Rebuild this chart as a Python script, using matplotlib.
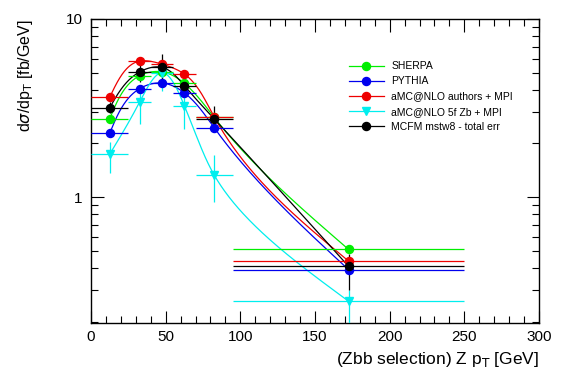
import numpy as np
import matplotlib
matplotlib.use("Agg")
import matplotlib.pyplot as plt
from matplotlib.ticker import LogLocator, NullFormatter, FixedLocator, MultipleLocator

plt.rcParams['font.family'] = ['Liberation Sans', 'DejaVu Sans']

# bins in Z pT [GeV]
bin_lo = [0, 25, 40, 55, 70, 95]
bin_hi = [25, 40, 55, 70, 95, 250]
bin_x = [12.5, 32.5, 47.5, 62.5, 82.5, 172.5]

sherpa = [2.75, 4.80, 5.05, 4.35, 2.80, 0.508]
pythia = [2.28, 4.06, 4.37, 3.85, 2.45, 0.391]
amc_authors = [3.63, 5.80, 5.58, 4.91, 2.82, 0.437]
amc_5f = [1.74, 3.41, 4.99, 3.26, 1.33, 0.260]
amc_5f_up = [2.03, 3.95, 5.50, 3.68, 1.72, 0.300]
amc_5f_dn = [1.36, 2.56, 3.93, 2.40, 0.94, 0.150]
mcfm = [3.17, 5.04, 5.35, 4.22, 2.75, 0.408]
mcfm_up = [3.40, 6.13, 6.40, 4.60, 3.24, 0.48]
mcfm_dn = [2.95, 4.40, 4.60, 3.80, 2.56, 0.30]

labels = ["SHERPA", "PYTHIA", "aMC@NLO authors + MPI",
          "aMC@NLO 5f Zb + MPI", "MCFM mstw8 - total err"]


def spline2(t, v):
    # natural cubic spline, second derivatives
    n = len(t)
    h = np.diff(t)
    A = np.zeros((n, n))
    r = np.zeros(n)
    A[0, 0] = A[-1, -1] = 1
    for i in range(1, n - 1):
        A[i, i - 1] = h[i - 1]
        A[i, i] = 2 * (h[i - 1] + h[i])
        A[i, i + 1] = h[i]
        r[i] = 6 * ((v[i + 1] - v[i]) / h[i] - (v[i] - v[i - 1]) / h[i - 1])
    return np.linalg.solve(A, r)


def spline_eval(t, v, m, tt):
    out = np.empty_like(tt)
    for k, s in enumerate(tt):
        i = min(np.searchsorted(t, s, side='right') - 1, len(t) - 2)
        i = max(i, 0)
        h = t[i + 1] - t[i]
        a = (t[i + 1] - s) / h
        b = (s - t[i]) / h
        out[k] = (a * v[i] + b * v[i + 1]
                  + ((a ** 3 - a) * m[i] + (b ** 3 - b) * m[i + 1]) * h * h / 6)
    return out


def smooth_curve(x, y):
    # parametric spline in screen-like units (x in px, log y in px), like ROOT "C"
    u = np.asarray(x, float) * 448 / 300.0
    v = np.log10(np.asarray(y, float)) * 178
    t = np.concatenate([[0], np.cumsum(np.hypot(np.diff(u), np.diff(v)))])
    tt = np.linspace(0, t[-1], 400)
    uu = spline_eval(t, u, spline2(t, u), tt)
    vv = spline_eval(t, v, spline2(t, v), tt)
    return uu * 300 / 448.0, 10 ** (vv / 178)


fig = plt.figure(figsize=(5.67, 3.84), dpi=100)
ax = fig.add_axes([91 / 567, 1 - 322.7 / 384, 448 / 567, (322.7 - 19) / 384])

x = np.array(bin_x)
xerr = [x - np.array(bin_lo), np.array(bin_hi) - x]

series = [
    (sherpa, "#00ee00", "o", None),
    (pythia, "#0000ee", "o", None),
    (amc_authors, "#ee0000", "o", None),
    (amc_5f, "#00eeee", "v", (amc_5f_dn, amc_5f_up)),
    (mcfm, "black", "o", (mcfm_dn, mcfm_up)),
]

handles = []
for vals, col, mk, band in series:
    y = np.array(vals)
    yerr = None
    if band is not None:
        yerr = [y - np.array(band[0]), np.array(band[1]) - y]
    cx, cy = smooth_curve(x, y)
    ax.plot(cx, cy, color=col, lw=0.9, zorder=2)
    ax.errorbar(x, y, xerr=xerr, yerr=yerr, fmt='none', ecolor=col,
                elinewidth=0.9, capsize=0, zorder=3)
    ax.plot(x, y, ls='none', marker=mk, ms=5.8, color=col, mec=col, zorder=4)
    h, = ax.plot([], [], color=col, lw=0.9, marker=mk, ms=5.8)
    handles.append(h)

ax.set_yscale('log')
ax.set_xlim(0, 300)
ax.set_ylim(0.197, 10)
ax.xaxis.set_major_locator(MultipleLocator(50))
ax.xaxis.set_minor_locator(MultipleLocator(10))
ax.yaxis.set_major_locator(FixedLocator([1, 10]))
ax.yaxis.set_minor_locator(LogLocator(base=10, subs=np.arange(2, 10)))
ax.yaxis.set_minor_formatter(NullFormatter())
ax.set_yticklabels(["1", "10"])
ax.tick_params(which='both', direction='in', top=True, right=True,
               labelsize=11, width=0.8)
ax.tick_params(which='major', length=9)
ax.tick_params(which='minor', length=5)
ax.tick_params(axis='y', pad=6)
ax.tick_params(axis='x', pad=5)
for s in ax.spines.values():
    s.set_linewidth(1.0)

ax.set_ylabel(r"d$\sigma$/dp$_{\rm T}$ [fb/GeV]", fontsize=11.5)
ax.yaxis.set_label_coords(-0.125, 1.0)
ax.yaxis.label.set_horizontalalignment('right')
ax.set_xlabel(r"(Zbb selection) Z p$_{\rm T}$ [GeV]", fontsize=12.5)
ax.xaxis.set_label_coords(1.0, -0.09)
ax.xaxis.label.set_horizontalalignment('right')

ax.legend(handles, labels, loc='upper left', bbox_to_anchor=(345 / 567, 1 - 57 / 384),
          bbox_transform=fig.transFigure, frameon=False, fontsize=7.5,
          handlelength=3.3, labelspacing=0.5, handletextpad=0.75, borderaxespad=0)

fig.savefig("out.png", dpi=100)
